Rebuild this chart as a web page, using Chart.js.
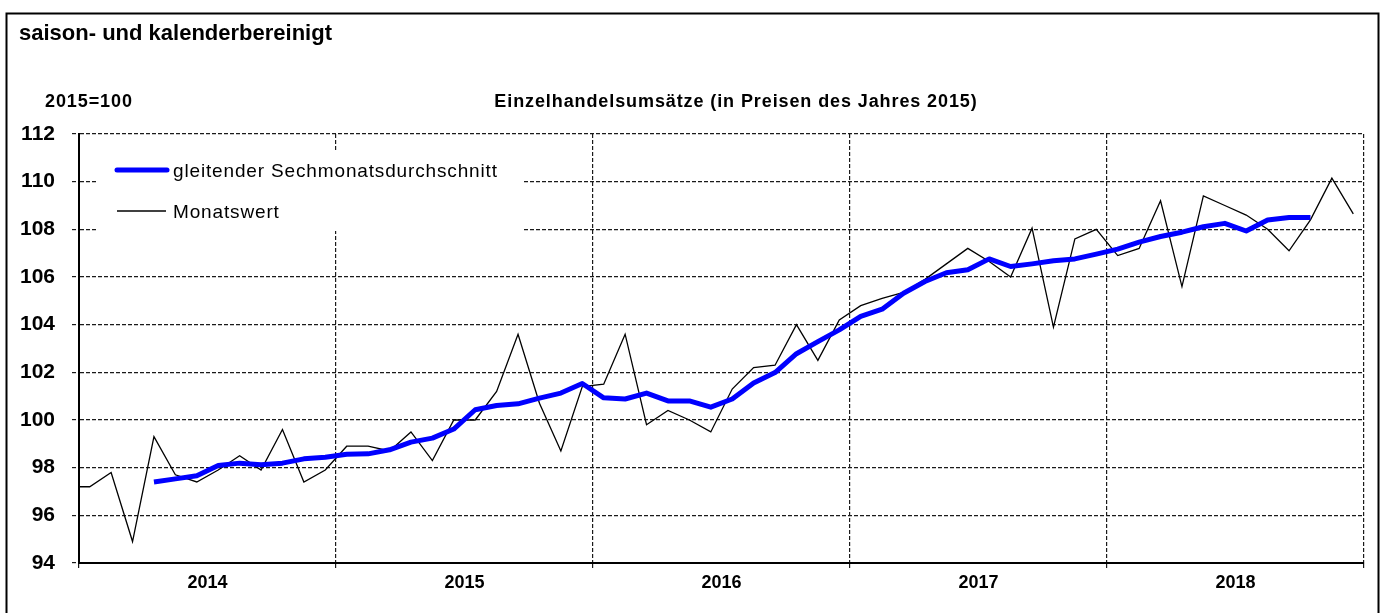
<!DOCTYPE html>
<html>
<head>
<meta charset="utf-8">
<script src="https://cdn.jsdelivr.net/npm/chart.js@4.4.1/dist/chart.umd.min.js"></script>
<style>
  html, body { margin: 0; padding: 0; background: #fff; }
  #wrap { width: 1384px; height: 613px; }
</style>
</head>
<body>
<div id="wrap"><canvas id="chart1" width="1384" height="613"></canvas></div>
<script>
// texte
var ueberschrift = 'saison- und kalenderbereinigt'
var basisText = '2015=100'
var titelText = 'Einzelhandelsumsätze (in Preisen des Jahres 2015)'

// x-achse: jahre, je 12 monate
var jahre = ['2014', '2015', '2016', '2017', '2018']
var yTickWerte = [94, 96, 98, 100, 102, 104, 106, 108, 110, 112]

// monatswerte jan 2014 .. dez 2018
var monatswertDez2013 = 97.2
var monatswert = [
    97.2, 97.8, 94.9, 99.3, 97.7, 97.4, 97.9, 98.5, 97.9, 99.6, 97.4, 97.9,
    98.9, 98.9, 98.7, 99.5, 98.3, 100.0, 100.0, 101.2, 103.6, 100.7, 98.7, 101.4,
    101.5, 103.6, 99.8, 100.4, 100.0, 99.5, 101.3, 102.2, 102.3, 104.0, 102.5, 104.2,
    104.8, 105.1, 105.35, 105.9, 106.55, 107.2, 106.65, 106.0, 108.05, 103.9, 107.6, 108.0,
    106.9, 107.2, 109.2, 105.6, 109.4, 109.0, 108.6, 108.0, 107.1, 108.4, 110.15, 108.65
]

// gleitender sechmonatsdurchschnitt, gleiche monate
var gleitenderDurchschnitt = [
    null, null, null, 97.4, 97.53, 97.66, 98.09, 98.19, 98.12, 98.19, 98.37, 98.44,
    98.56, 98.58, 98.75, 99.07, 99.24, 99.62, 100.43, 100.61, 100.68, 100.92, 101.13, 101.53,
    100.93, 100.88, 101.13, 100.8, 100.8, 100.54, 100.88, 101.55, 101.99, 102.78, 103.29, 103.78,
    104.35, 104.65, 105.32, 105.81, 106.18, 106.3, 106.76, 106.44, 106.55, 106.68, 106.76, 106.96,
    107.17, 107.46, 107.7, 107.88, 108.11, 108.25, 107.93, 108.39, 108.5, 108.5, null, null
]

function punkte(werte, start) {
    var out = []
    for (var i = 0, size = werte.length; i < size; ++i) {
        if (werte[i] !== null) {
            out.push({x: start + i + 0.5, y: werte[i]})
        }
    }
    return out
}

var dash = [4, 2]
var gridFarbe = '#1a1a1a'

function grenzFarbe(context) {
    if (context.tick && context.tick.value % 12 === 0) {
        return gridFarbe
    }
    return 'rgba(0,0,0,0)'
}

var rahmenPlugin = {
    id: 'rahmen',
    afterDraw: function (chart) {
        var c = chart.ctx
        var a = chart.chartArea
        c.save()
        c.strokeStyle = '#000'
        c.lineWidth = 2
        c.strokeRect(6.5, 13.5, 1372, 610)

        c.fillStyle = '#000'
        c.textBaseline = 'alphabetic'
        c.textAlign = 'left'
        c.font = 'bold 22px "Liberation Sans", Arial, sans-serif'
        c.fillText(ueberschrift, 19, 40)

        c.letterSpacing = '0.9px'
        c.font = 'bold 18px "Liberation Sans", Arial, sans-serif'
        c.fillText(basisText, 45, 107)
        c.textAlign = 'center'
        c.fillText(titelText, 736, 107)

        // legende
        c.textAlign = 'left'
        c.fillStyle = '#fff'
        c.fillRect(a.left + 19, a.top + 16, 424, 81)
        var ds = chart.data.datasets
        var zeilen = [a.top + 36, a.top + 77]
        c.font = '19px "Liberation Sans", Arial, sans-serif'
        c.letterSpacing = '0.85px'
        for (var i = 0; i < ds.length; ++i) {
            c.strokeStyle = ds[i].borderColor
            c.lineWidth = ds[i].borderWidth
            c.lineCap = i === 0 ? 'round' : 'butt'
            c.beginPath()
            c.moveTo(a.left + 38, zeilen[i])
            c.lineTo(a.left + (i === 0 ? 88 : 87), zeilen[i])
            c.stroke()
            c.fillStyle = '#000'
            c.fillText(ds[i].label, a.left + 94, zeilen[i] + 7)
        }
        c.restore()
    }
}

var ctx = document.getElementById('chart1')
var chart1 = new Chart(
    ctx, {
    type: 'line',
    data: {
        datasets: [
            {
                label: 'gleitender Sechmonatsdurchschnitt',
                data: punkte(gleitenderDurchschnitt, 0),
                borderColor: '#0000ff',
                borderWidth: 5,
                pointRadius: 0,
                tension: 0,
                borderJoinStyle: 'round'
            },
            {
                label: 'Monatswert',
                data: punkte([monatswertDez2013].concat(monatswert), -1),
                borderColor: '#000000',
                borderWidth: 1.3,
                pointRadius: 0,
                tension: 0
            }
        ]
    },
    options: {
        responsive: false,
        animation: false,
        layout: {
            padding: {top: 134, right: 20, left: 0, bottom: 0}
        },
        plugins: {
            legend: {display: false},
            tooltip: {enabled: false}
        },
        scales: {
            x: {
                type: 'linear',
                min: 0,
                max: jahre.length * 12,
                afterBuildTicks: function (scale) {
                    var t = []
                    for (var v = 0; v <= jahre.length * 12; v += 6) {
                        t.push({value: v})
                    }
                    scale.ticks = t
                },
                afterFit: function (scale) {
                    scale.height = 50
                },
                ticks: {
                    autoSkip: false,
                    maxRotation: 0,
                    padding: 2,
                    color: '#000',
                    font: {family: '"Liberation Sans", Arial, sans-serif', size: 18, weight: 'bold'},
                    callback: function (value) {
                        if (value % 12 === 6) {
                            return jahre[(value - 6) / 12]
                        }
                        return ''
                    }
                },
                grid: {
                    color: grenzFarbe,
                    tickColor: grenzFarbe,
                    lineWidth: 1.2,
                    tickLength: 7,
                    tickBorderDash: dash
                },
                border: {color: '#000', width: 2, dash: dash}
            },
            y: {
                min: 94,
                max: 112,
                afterBuildTicks: function (scale) {
                    scale.ticks = yTickWerte.map(function (v) { return {value: v} })
                },
                afterFit: function (scale) {
                    scale.width = 79
                },
                ticks: {
                    padding: 17,
                    color: '#000',
                    font: {family: '"Liberation Sans", Arial, sans-serif', size: 21, weight: 'bold'}
                },
                grid: {
                    color: gridFarbe,
                    tickColor: gridFarbe,
                    lineWidth: 1.2,
                    tickLength: 7,
                    tickBorderDash: dash
                },
                border: {color: '#000', width: 2, dash: dash}
            }
        }
    },
    plugins: [rahmenPlugin]
}
)
</script>
</body>
</html>
